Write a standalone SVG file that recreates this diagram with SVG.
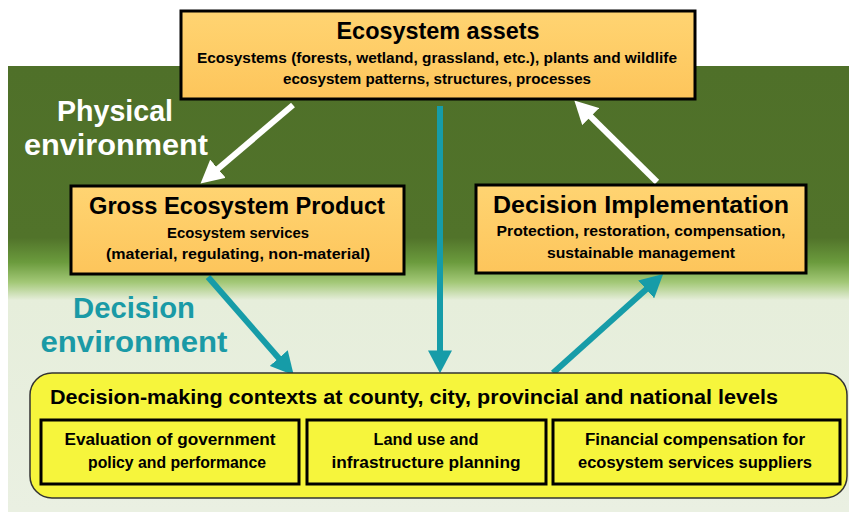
<svg xmlns="http://www.w3.org/2000/svg" width="849" height="512" viewBox="0 0 849 512">
<defs>
<linearGradient id="bg" gradientUnits="userSpaceOnUse" x1="0" y1="66" x2="0" y2="512">
<stop offset="0" stop-color="#4f7029"/>
<stop offset="0.385" stop-color="#51732a"/>
<stop offset="0.44" stop-color="#6b9b3d"/>
<stop offset="0.485" stop-color="#a3c877"/>
<stop offset="0.525" stop-color="#e6eedb"/>
<stop offset="1" stop-color="#eaf0e2"/>
</linearGradient>
<linearGradient id="orange" x1="0" y1="0" x2="0" y2="1">
<stop offset="0" stop-color="#ffd472"/>
<stop offset="1" stop-color="#fdc55b"/>
</linearGradient>
<marker id="hw" markerUnits="userSpaceOnUse" markerWidth="24" markerHeight="24" viewBox="0 0 22 22" refX="6" refY="11" orient="auto">
<path d="M0,0 L21,11 L0,22 z" fill="#ffffff"/>
</marker>
<marker id="ht" markerUnits="userSpaceOnUse" markerWidth="24" markerHeight="24" viewBox="0 0 22 22" refX="6" refY="11" orient="auto">
<path d="M0,0 L21,11 L0,22 z" fill="#169ca8"/>
</marker>
<style>
.box{fill:url(#orange);stroke:#000;stroke-width:3}
.sub{fill:#f6f53c;stroke:#000;stroke-width:3}
text{font-family:"Liberation Sans",Arial,sans-serif;font-weight:bold;text-anchor:middle;fill:#000}
.t1{font-size:24px}
.t2{font-size:15px}
.t3{font-size:16px}
.lab{font-size:29px}
.wl{stroke:#fff;stroke-width:6;fill:none}
.tl{stroke:#169ca8;stroke-width:6;fill:none}
</style>
</defs>
<rect x="0" y="0" width="849" height="512" fill="#ffffff"/>
<rect x="8" y="66" width="841" height="446" fill="url(#bg)"/>

<g id="labels">
<text class="lab" x="115" y="121" style="fill:#fff" textLength="116" lengthAdjust="spacingAndGlyphs">Physical</text>
<text class="lab" x="116" y="155" style="fill:#fff" textLength="184" lengthAdjust="spacingAndGlyphs">environment</text>
<text class="lab" x="134" y="318" style="fill:#1a9aa6" textLength="122" lengthAdjust="spacingAndGlyphs">Decision</text>
<text class="lab" x="134" y="352" style="fill:#1a9aa6" textLength="187" lengthAdjust="spacingAndGlyphs">environment</text>
</g>

<g id="connectors">
<line class="wl" x1="293" y1="105" x2="213" y2="173" marker-end="url(#hw)"/>
<line class="wl" x1="657" y1="182" x2="586" y2="112" marker-end="url(#hw)"/>
<line class="tl" x1="440" y1="106" x2="440" y2="357" marker-end="url(#ht)"/>
<line class="tl" x1="208" y1="277" x2="283" y2="363" marker-end="url(#ht)"/>
<line class="tl" x1="553" y1="373" x2="651" y2="285" marker-end="url(#ht)"/>
</g>

<g id="ecosystem-assets">
<rect class="box" x="181" y="11" width="514" height="88"/>
<text class="t1" x="438" y="39" textLength="203" lengthAdjust="spacingAndGlyphs">Ecosystem assets</text>
<text class="t2" x="437" y="63" textLength="480" lengthAdjust="spacingAndGlyphs">Ecosystems (forests, wetland, grassland, etc.), plants and wildlife</text>
<text class="t2" x="437" y="84" textLength="308" lengthAdjust="spacingAndGlyphs">ecosystem patterns, structures, processes</text>
</g>

<g id="gross-ecosystem-product">
<rect class="box" x="71" y="186" width="333" height="88"/>
<text class="t1" x="237" y="214" textLength="296" lengthAdjust="spacingAndGlyphs">Gross Ecosystem Product</text>
<text class="t2" x="238" y="238" textLength="142" lengthAdjust="spacingAndGlyphs">Ecosystem services</text>
<text class="t2" x="238" y="259" textLength="264" lengthAdjust="spacingAndGlyphs">(material, regulating, non-material)</text>
</g>

<g id="decision-implementation">
<rect class="box" x="476" y="185" width="330" height="88"/>
<text class="t1" x="641" y="213" textLength="296" lengthAdjust="spacingAndGlyphs">Decision Implementation</text>
<text class="t2" x="641" y="236" textLength="289" lengthAdjust="spacingAndGlyphs">Protection, restoration, compensation,</text>
<text class="t2" x="641" y="258" textLength="188" lengthAdjust="spacingAndGlyphs">sustainable management</text>
</g>

<g id="decision-contexts">
<rect x="30" y="373" width="817" height="125" rx="22" ry="22" fill="#f6f53c" stroke="#333" stroke-width="1.5"/>
<text x="414" y="404" style="font-size:20px" textLength="728" lengthAdjust="spacingAndGlyphs">Decision-making contexts at county, city, provincial and national levels</text>
</g>

<g id="evaluation">
<rect class="sub" x="41" y="420" width="258" height="64"/>
<text class="t3" x="170" y="445" textLength="211" lengthAdjust="spacingAndGlyphs">Evaluation of government</text>
<text class="t3" x="177" y="468" textLength="178" lengthAdjust="spacingAndGlyphs">policy and performance</text>
</g>

<g id="land-use">
<rect class="sub" x="307" y="420" width="239" height="64"/>
<text class="t3" x="426" y="445" textLength="105" lengthAdjust="spacingAndGlyphs">Land use and</text>
<text class="t3" x="426" y="468" textLength="189" lengthAdjust="spacingAndGlyphs">infrastructure planning</text>
</g>

<g id="financial-compensation">
<rect class="sub" x="553" y="420" width="287" height="64"/>
<text class="t3" x="695" y="445" textLength="220" lengthAdjust="spacingAndGlyphs">Financial compensation for</text>
<text class="t3" x="695" y="468" textLength="234" lengthAdjust="spacingAndGlyphs">ecosystem services suppliers</text>
</g>
</svg>
